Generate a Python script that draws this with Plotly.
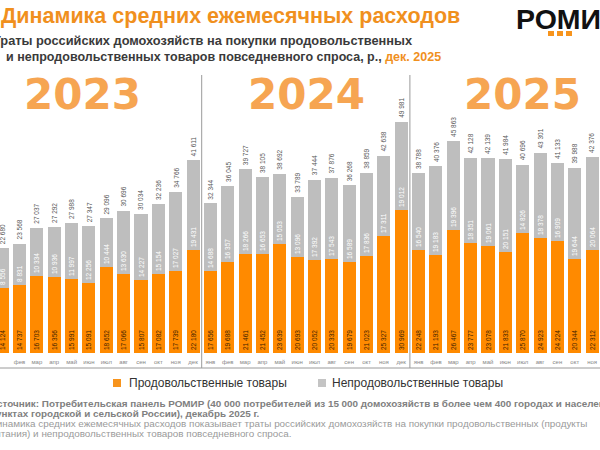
import plotly.graph_objects as go

months = ["янв", "фев", "мар", "апр", "май", "июн", "июл", "авг", "сен", "окт", "ноя", "дек"]
years = ["2023", "2024", "2025"]

food_2023 = [14124, 14737, 16703, 16356, 15991, 15091, 18652, 17066, 15807, 17082, 17739, 22180]
food_2024 = [17656, 19688, 21461, 21452, 23639, 20693, 20052, 20333, 19679, 21023, 25327, 30969]
food_2025 = [22248, 21193, 26467, 23777, 23078, 21833, 25870, 24923, 24224, 20344, 22312]

nonfood_2023 = [8556, 8831, 10334, 10936, 11997, 12256, 10444, 13630, 14227, 15154, 17027, 19431]
nonfood_2024 = [14688, 16357, 18266, 16653, 15053, 13096, 17392, 17543, 16589, 17836, 17311, 19012]
nonfood_2025 = [16540, 19183, 19396, 18351, 19061, 20151, 14826, 18378, 16909, 19644, 20064]

food = food_2023 + food_2024 + food_2025
nonfood = nonfood_2023 + nonfood_2024 + nonfood_2025
total = [a + b for a, b in zip(food, nonfood)]
labels = (months + months + months)[:len(food)]
xs = list(range(len(food)))

ORANGE = "#FF8A00"
GRAY = "#BEBEBE"
FONT = "Liberation Sans, Arial, sans-serif"


def fmt(v):
    return f"{v:,}".replace(",", " ")


W, H = 600, 450
TOP, BOT = 100, 353


def px(x):
    return x / W


def py(y):
    return (BOT - y) / (BOT - TOP)


fig = go.Figure()
fig.add_trace(go.Bar(
    x=xs, y=food, name="Продовольственные товары", marker_color=ORANGE,
    width=0.75, text=[fmt(v) for v in food], textposition="inside",
    insidetextanchor="start", textangle=-90,
    insidetextfont=dict(size=6.5, color="#3d2200", family=FONT),
    marker_line_width=0, showlegend=False))
fig.add_trace(go.Bar(
    x=xs, y=nonfood, name="Непродовольственные товары", marker_color=GRAY,
    width=0.75, text=[fmt(v) for v in nonfood], textposition="inside",
    insidetextanchor="start", textangle=-90,
    insidetextfont=dict(size=6.5, color="white", family=FONT),
    marker_line_width=0, showlegend=False))

ann = []
for x, t in zip(xs, total):
    ann.append(dict(x=x, y=t, xref="x", yref="y", text=fmt(t), showarrow=False,
                    textangle=-90, yanchor="bottom", xanchor="center", yshift=2,
                    font=dict(size=6.5, color="#555", family=FONT)))

# year labels
for yr, xc in zip(years, [82, 306, 522]):
    ann.append(dict(x=px(xc), y=py(95), xref="paper", yref="paper", text="<b>" + yr + "</b>",
                    showarrow=False, xanchor="center", yanchor="middle",
                    font=dict(size=42, color="#F6A552", family="DejaVu Sans")))

# titles
ann.append(dict(x=px(-1), y=py(16), xref="paper", yref="paper",
                text="<b>Динамика средних ежемесячных расходов</b>", showarrow=False,
                xanchor="left", yanchor="middle",
                font=dict(size=21.5, color="#F0901E", family=FONT)))
ann.append(dict(x=px(-9.5), y=py(40), xref="paper", yref="paper",
                text="<b>Траты российских домохозяйств на покупки продовольственных</b>",
                showarrow=False, xanchor="left", yanchor="middle",
                font=dict(size=12.8, color="#3a3a3a", family=FONT)))
ann.append(dict(x=px(4), y=py(57), xref="paper", yref="paper",
                text="<b>и непродовольственных товаров повседневного спроса, р., "
                     "<span style='color:#F0901E'>дек. 2025</span></b>",
                showarrow=False, xanchor="left", yanchor="middle",
                font=dict(size=12.5, color="#3a3a3a", family=FONT)))
# logo
ann.append(dict(x=px(514), y=py(19), xref="paper", yref="paper",
                text="<b>РОМИР</b>", showarrow=False, xanchor="left", yanchor="middle",
                font=dict(size=28.5, color="#111", family=FONT)))

# legend (manual)
ann.append(dict(x=px(127), y=py(383), xref="paper", yref="paper",
                text="Продовольственные товары", showarrow=False, xanchor="left",
                yanchor="middle", font=dict(size=12, color="#333", family=FONT)))
ann.append(dict(x=px(330), y=py(383), xref="paper", yref="paper",
                text="Непродовольственные товары", showarrow=False, xanchor="left",
                yanchor="middle", font=dict(size=12, color="#333", family=FONT)))

# source notes
src = [
    ("<b>Источник: Потребительская панель РОМИР (40 000 потребителей из 15 000 домохозяйств в более чем 400 городах и населенных</b>", 403, "#808080"),
    ("<b>пунктах городской и сельской России), декабрь 2025 г.</b>", 413, "#808080"),
    ("Динамика средних ежемесячных расходов показывает траты российских домохозяйств на покупки продовольственных (продукты", 423, "#9a9a9a"),
    ("питания) и непродовольственных товаров повседневного спроса.", 433, "#9a9a9a"),
]
for t, yy, c in src:
    ann.append(dict(x=px(-12), y=py(yy), xref="paper", yref="paper", text=t,
                    showarrow=False, xanchor="left", yanchor="middle",
                    font=dict(size=9.9, color=c, family=FONT)))

shapes = []
# dividers between years
for xd in [201.7, 409.9]:
    shapes.append(dict(type="line", xref="paper", yref="paper", x0=px(xd), x1=px(xd),
                       y0=py(368), y1=py(75), line=dict(color="#9a9a9a", width=1)))
shapes.append(dict(type="line", xref="paper", yref="paper", x0=0, x1=1,
                   y0=py(368), y1=py(368), line=dict(color="#9a9a9a", width=1)))
# legend squares
shapes.append(dict(type="rect", xref="paper", yref="paper", x0=px(113), x1=px(121),
                   y0=py(387), y1=py(379), fillcolor="#F7941D", line_width=0))
shapes.append(dict(type="rect", xref="paper", yref="paper", x0=px(318), x1=px(326),
                   y0=py(387), y1=py(379), fillcolor="#C4C4C4", line_width=0))
# logo dots
for xd in [548, 557, 566]:
    shapes.append(dict(type="rect", xref="paper", yref="paper", x0=px(xd), x1=px(xd + 6),
                       y0=py(36), y1=py(31), fillcolor="#F7941D", line_width=0))

fig.update_layout(
    width=W, height=H, barmode="stack", bargap=0,
    margin=dict(l=0, r=0, t=TOP, b=H - BOT, autoexpand=False),
    paper_bgcolor="white", plot_bgcolor="white",
    annotations=ann, shapes=shapes, showlegend=False,
    uniformtext=dict(minsize=6, mode="show"),
)
fig.update_xaxes(range=[-2.2 / 17.35, (600 - 2.2) / 17.35], tickvals=xs, ticktext=labels,
                 tickfont=dict(size=6, color="#888", family=FONT), showgrid=False,
                 zeroline=False, showline=False, ticks="", fixedrange=True,
                 ticklabelstandoff=4)
fig.update_yaxes(range=[0, (BOT - TOP) * 216], visible=False, showgrid=False, fixedrange=True)

fig.write_html("out.html")
